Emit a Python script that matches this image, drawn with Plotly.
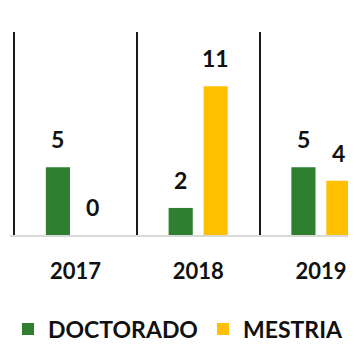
import plotly.graph_objects as go

years = ["2017", "2018", "2019"]
doctorado = [5, 2, 5]
mestria = [0, 11, 4]
series_names = ["DOCTORADO", "MESTRIA"]
colors = ["#2e7f30", "#ffc000"]

fig = go.Figure()
for name, vals, col in zip(series_names, [doctorado, mestria], colors):
    fig.add_trace(go.Bar(x=years, y=vals, name=name, marker=dict(color=col, line=dict(width=0))))

# value labels
offsets = [-17.5, 17.5]
for vals, dx in zip([doctorado, mestria], offsets):
    for i, v in enumerate(vals):
        fig.add_annotation(x=i, y=v, text=f"<b>{v}</b>", showarrow=False,
                           xshift=dx, yshift=28, yanchor="middle",
                           font=dict(family="Lato", size=23, color="#111111"))

fig.update_layout(
    width=356, height=364,
    margin=dict(l=2, r=0, t=24, b=137, autoexpand=False),
    paper_bgcolor="white", plot_bgcolor="white",
    barmode="group", bargap=0.43, bargroupgap=0.31,
    font=dict(family="Lato", color="#111111"),
    showlegend=True,
    legend=dict(orientation="h", xref="container", yref="container",
                x=0, y=(364-321)/364, xanchor="left", yanchor="middle",
                font=dict(family="Lato", size=23, color="#111111", weight="bold"),
                traceorder="normal"),
)
fig.update_xaxes(type="category", range=[-0.533, 2.351], tickson="boundaries",
                 showgrid=True, gridcolor="#1a1a1a", gridwidth=2,
                 showline=True, linecolor="#d9d9d9", linewidth=2,
                 ticks="", ticklabelstandoff=16, automargin=False,
                 tickfont=dict(family="Lato", size=22, color="#111111", weight="bold"),
                 fixedrange=True)
fig.update_yaxes(range=[0, 15], showgrid=False, zeroline=False, showline=False,
                 showticklabels=False, fixedrange=True, automargin=False)

fig.write_html("out.html")
